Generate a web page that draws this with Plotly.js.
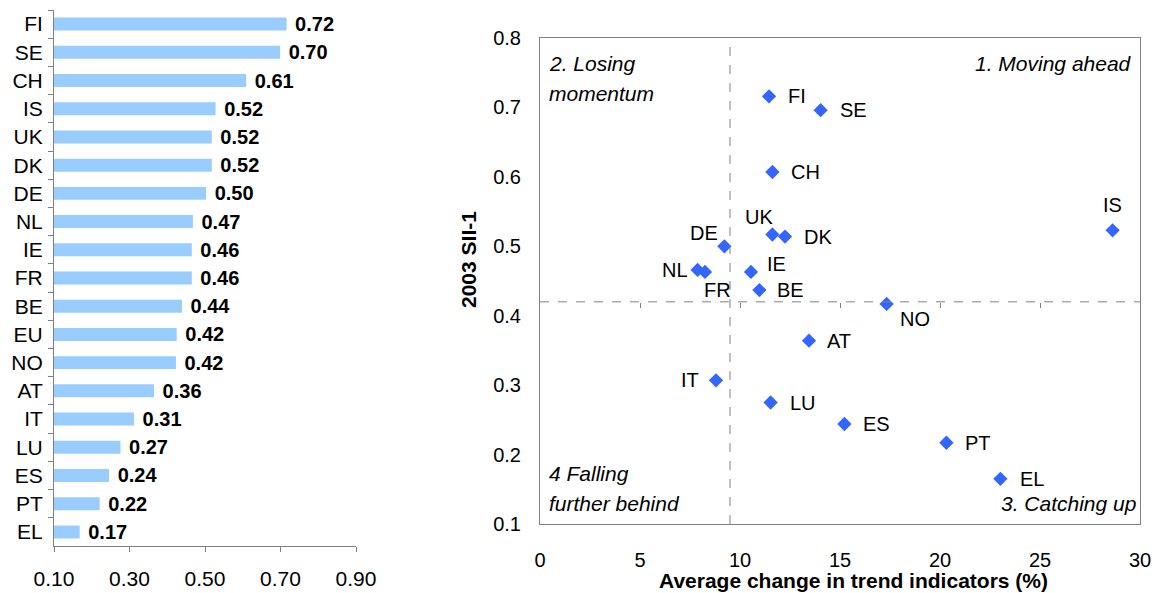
<!DOCTYPE html>
<html>
<head>
<meta charset="utf-8">
<script src="https://cdn.plot.ly/plotly-3.0.1.min.js"></script>
<style>
  html, body { margin: 0; padding: 0; background: #ffffff; }
  #chart { width: 1157px; height: 593px; }
</style>
</head>
<body>
<div id="chart"></div>
<script>
// ---------- Data: left bar chart (2003 SII-1) ----------
var barCountries = ["FI","SE","CH","IS","UK","DK","DE","NL","IE","FR","BE","EU","NO","AT","IT","LU","ES","PT","EL"];
var barValues    = [0.716, 0.699, 0.609, 0.528, 0.518, 0.518, 0.503, 0.468, 0.465, 0.465, 0.439, 0.425, 0.423, 0.365, 0.312, 0.276, 0.246, 0.221, 0.168];
var barLabels    = ["0.72","0.70","0.61","0.52","0.52","0.52","0.50","0.47","0.46","0.46","0.44","0.42","0.42","0.36","0.31","0.27","0.24","0.22","0.17"];
var barTickVals  = [0.10, 0.30, 0.50, 0.70, 0.90];

// ---------- Data: right scatter (trend vs level) ----------
var scatCountries = ["FI","SE","CH","UK","DK","DE","NL","FR","IE","BE","IS","NO","AT","IT","LU","ES","PT","EL"];
var scatChange    = [11.45, 14.03, 11.62, 11.62, 12.25, 9.22, 7.88, 8.25, 10.55, 10.97, 28.63, 17.33, 13.45, 8.80, 11.53, 15.22, 20.32, 23.02];
var scatSII       = [0.716, 0.696, 0.607, 0.517, 0.514, 0.500, 0.466, 0.463, 0.463, 0.437, 0.523, 0.417, 0.364, 0.307, 0.275, 0.244, 0.217, 0.165];
var euAverageSII  = 0.42;
var changeDivider = 9.5;
var xTickVals     = [0, 5, 10, 15, 20, 25, 30];
var yTickVals     = [0.1, 0.2, 0.3, 0.4, 0.5, 0.6, 0.7, 0.8];
var dividerTicks  = [5, 10, 15, 20, 25];
var quadrantLines = ["2. Losing", "momentum", "1. Moving ahead", "4 Falling", "further behind", "3. Catching up"];

// ---------- Styling / layout helpers ----------
var W = 1157, H = 593;
function px(x) { return x / W; }
function py(y) { return 1 - y / H; }
var FONT = "Liberation Sans, Arial, Helvetica, sans-serif";
var BAR_COLOR = "#99CCFF";
var MARK_COLOR = "#3366FF";
var GRAY = "#808080";

// label placement for the scatter labels (anchor, dx, dy in px; dy positive = down)
var labelPlacement = {
  FI: ["left", 17, 0],  SE: ["left", 17, 0],  CH: ["left", 17, 0],
  UK: ["right", 3, -17], DK: ["left", 17, 0], DE: ["right", -4, -13],
  NL: ["right", -8, 0], FR: ["left", -3, 18], IE: ["left", 14, -8],
  BE: ["left", 16, 0],  IS: ["center", 0, -25], NO: ["left", 11, 15],
  AT: ["left", 16, 0],  IT: ["right", -15, 0], LU: ["left", 17, 0],
  ES: ["left", 17, 0],  PT: ["left", 17, 0],  EL: ["left", 18, 0]
};

var x2dom = [px(540), px(1140)];
var y2dom = [py(524), py(38)];
var y2range = [0.1, 0.8];
var dividerPos = y2dom[0] + (euAverageSII - y2range[0]) / (y2range[1] - y2range[0]) * (y2dom[1] - y2dom[0]);

var traces = [
  {
    type: "bar",
    orientation: "h",
    y: barCountries,
    x: barValues,
    text: barLabels.map(function (s) { return "\u00a0" + s; }),
    xaxis: "x", yaxis: "y",
    marker: { color: BAR_COLOR },
    texttemplate: "%{text}",
    textposition: "outside",
    constraintext: "none",
    cliponaxis: false,
    textfont: { family: FONT, size: 20, color: "#000000", weight: "bold" },
    hoverinfo: "skip",
    showlegend: false
  },
  {
    type: "scatter",
    mode: "markers",
    x: scatChange,
    y: scatSII,
    xaxis: "x2", yaxis: "y2",
    marker: { symbol: "diamond", size: 11, color: MARK_COLOR, line: { width: 0 } },
    cliponaxis: false,
    hoverinfo: "skip",
    showlegend: false
  }
];

var annotations = [];
for (var i = 0; i < scatCountries.length; i++) {
  var p = labelPlacement[scatCountries[i]];
  annotations.push({
    x: scatChange[i], y: scatSII[i], xref: "x2", yref: "y2",
    text: scatCountries[i], showarrow: false,
    xanchor: p[0], yanchor: "middle",
    xshift: p[1], yshift: -p[2],
    font: { family: FONT, size: 20, color: "#000000" }
  });
}
// quadrant labels
var quadPos = [
  [547, 63, "left"], [547, 93, "left"], [1134, 63, "right"],
  [547, 473, "left"], [547, 503, "left"], [1138, 503, "right"]
];
for (var q = 0; q < quadrantLines.length; q++) {
  annotations.push({
    x: px(quadPos[q][0]), y: py(quadPos[q][1]), xref: "paper", yref: "paper",
    xanchor: quadPos[q][2], yanchor: "middle", showarrow: false,
    text: "<i>" + quadrantLines[q] + "</i>",
    font: { family: FONT, size: 21, color: "#000000" }
  });
}
// axis titles
annotations.push({
  x: px(468), y: py(260), xref: "paper", yref: "paper", showarrow: false,
  text: "<b>2003 SII-1</b>", textangle: -90, xanchor: "center", yanchor: "middle",
  font: { family: FONT, size: 21, color: "#000000" }
});
annotations.push({
  x: px(853), y: 0, xref: "paper", yref: "paper", showarrow: false,
  text: "<b>Average change in trend indicators (%)</b>", xanchor: "center", yanchor: "bottom",
  borderpad: 0,
  font: { family: FONT, size: 21, color: "#000000" }
});

var layout = {
  width: W, height: H,
  margin: { l: 0, r: 0, t: 0, b: 0 },
  paper_bgcolor: "#ffffff",
  plot_bgcolor: "rgba(0,0,0,0)",
  font: { family: FONT, size: 20, color: "#000000" },
  bargap: 0.54,
  xaxis: {
    domain: [px(54), px(356)],
    anchor: "y",
    range: [0.10, 0.90],
    tickvals: barTickVals,
    tickformat: ".2f",
    ticks: "outside", ticklen: 5, tickcolor: GRAY,
    showline: true, linecolor: GRAY, linewidth: 1,
    showgrid: false, zeroline: false,
    tickfont: { family: FONT, size: 21, color: "#000000" },
    ticklabelstandoff: 9,
    fixedrange: true
  },
  yaxis: {
    domain: [py(546), py(10)],
    anchor: "x",
    type: "category",
    categoryorder: "array",
    categoryarray: barCountries,
    autorange: "reversed",
    tickson: "boundaries",
    ticks: "outside", ticklen: 5, tickcolor: GRAY,
    showline: true, linecolor: GRAY, linewidth: 1,
    showgrid: false, zeroline: false,
    tickfont: { family: FONT, size: 21, color: "#000000" },
    ticklabelstandoff: 6,
    fixedrange: true
  },
  xaxis2: {
    domain: x2dom,
    anchor: "y2",
    range: [0, 30],
    tickvals: xTickVals,
    ticks: "",
    showline: true, mirror: true, linecolor: GRAY, linewidth: 1,
    showgrid: false, zeroline: false,
    tickfont: { family: FONT, size: 20, color: "#000000" },
    ticklabelstandoff: 18,
    fixedrange: true
  },
  yaxis2: {
    domain: y2dom,
    anchor: "x2",
    range: y2range,
    tickvals: yTickVals,
    tickformat: ".1f",
    ticks: "",
    showline: true, mirror: true, linecolor: GRAY, linewidth: 1,
    showgrid: false, zeroline: false,
    tickfont: { family: FONT, size: 20, color: "#000000" },
    ticklabelstandoff: 14,
    fixedrange: true
  },
  xaxis3: {
    domain: x2dom,
    overlaying: "x2",
    anchor: "free",
    position: dividerPos,
    range: [0, 30],
    tickvals: dividerTicks,
    ticks: "outside", ticklen: 5, tickcolor: GRAY,
    showticklabels: false,
    showline: false, showgrid: false, zeroline: false,
    fixedrange: true
  },
  shapes: [
    { type: "line", xref: "x2", yref: "y2", x0: changeDivider, x1: changeDivider, y0: y2range[0], y1: y2range[1],
      line: { color: GRAY, width: 1, dash: "dash" } },
    { type: "line", xref: "x2", yref: "y2", x0: 0, x1: 30, y0: euAverageSII, y1: euAverageSII,
      line: { color: GRAY, width: 1, dash: "dash" } }
  ],
  annotations: annotations
};

// empty trace so that the divider tick axis (xaxis3) is created
traces.push({ type: "scatter", mode: "none", x: [], y: [], xaxis: "x3", yaxis: "y2", showlegend: false, hoverinfo: "skip" });

Plotly.newPlot("chart", traces, layout, { displayModeBar: false, staticPlot: true });
</script>
</body>
</html>
